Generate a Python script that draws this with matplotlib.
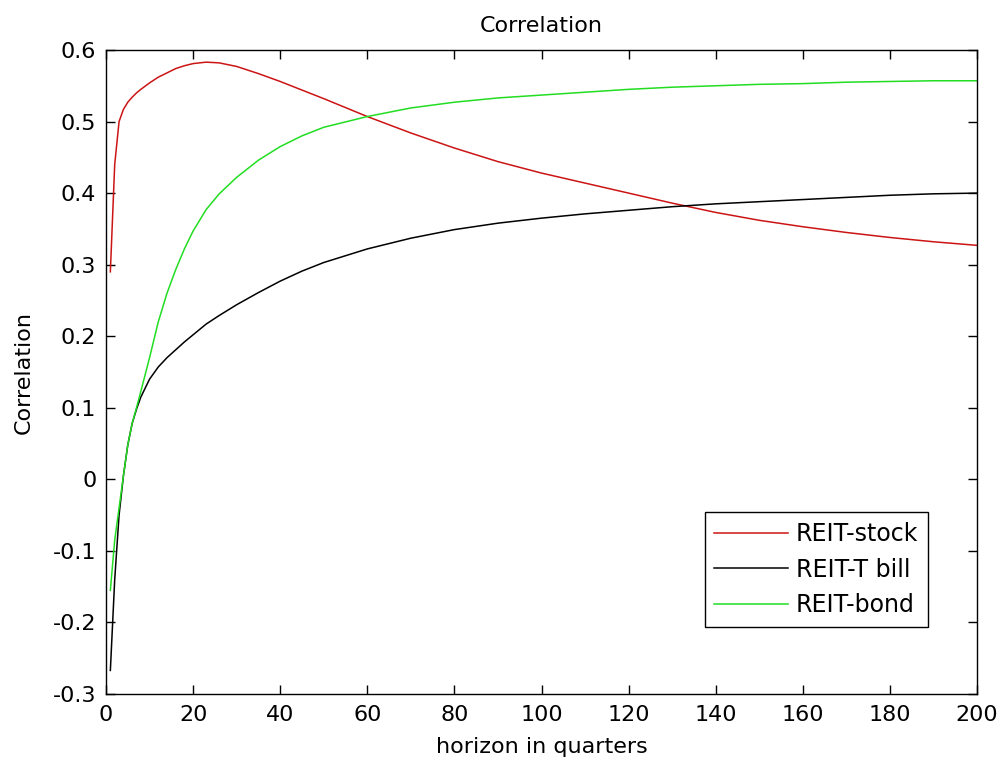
import matplotlib
matplotlib.use("Agg")
import matplotlib.pyplot as plt
from matplotlib.ticker import FuncFormatter, MultipleLocator

plt.rcParams['font.family'] = ['DejaVu Sans']
plt.rcParams['axes.unicode_minus'] = False

horizon = [1, 2, 3, 4, 5, 6, 7, 8, 10, 12, 14, 16, 18, 20, 23, 26, 30, 35, 40, 45,
           50, 60, 70, 80, 90, 100, 110, 120, 130, 140, 150, 160, 170, 180, 190, 200]

reit_stock = [0.29, 0.44, 0.50, 0.517, 0.527, 0.534, 0.54, 0.545, 0.554, 0.562, 0.568,
              0.574, 0.578, 0.581, 0.583, 0.582, 0.577, 0.567, 0.556, 0.544,
              0.532, 0.507, 0.484, 0.463, 0.444, 0.428, 0.414, 0.400, 0.386, 0.373,
              0.362, 0.353, 0.345, 0.338, 0.332, 0.327]

reit_tbill = [-0.267, -0.14, -0.05, 0.005, 0.048, 0.078, 0.098, 0.115, 0.140, 0.157, 0.170,
              0.181, 0.192, 0.202, 0.217, 0.229, 0.244, 0.261, 0.277, 0.291,
              0.303, 0.322, 0.337, 0.349, 0.358, 0.365, 0.371, 0.376, 0.381, 0.385,
              0.388, 0.391, 0.394, 0.397, 0.399, 0.400]

reit_bond = [-0.155, -0.085, -0.04, 0.005, 0.048, 0.078, 0.10, 0.123, 0.170, 0.220, 0.260,
             0.293, 0.322, 0.347, 0.377, 0.399, 0.422, 0.446, 0.465, 0.480,
             0.492, 0.507, 0.519, 0.527, 0.533, 0.537, 0.541, 0.545, 0.548, 0.550,
             0.552, 0.553, 0.555, 0.556, 0.557, 0.557]

series_labels = ['REIT-stock', 'REIT-T bill', 'REIT-bond']
series_colors = ['#cc1414', '#000000', '#22dd22']

FS = 16

fig = plt.figure(figsize=(10, 7.62), dpi=100)
ax = fig.add_axes([0.106, 0.0892, 0.871, 0.8452])

for vals, lab, col in zip([reit_stock, reit_tbill, reit_bond], series_labels, series_colors):
    ax.plot(horizon, vals, color=col, lw=1.1, label=lab)

ax.set_xlim(0, 200)
ax.set_ylim(-0.3, 0.6)
ax.xaxis.set_major_locator(MultipleLocator(20))
ax.yaxis.set_major_locator(MultipleLocator(0.1))
ax.yaxis.set_major_formatter(FuncFormatter(lambda v, p: '%g' % round(v, 2)))
ax.tick_params(direction='in', length=6.5, width=1, labelsize=FS,
               top=True, right=True, pad=7)
ax.tick_params(axis='x', pad=8)
for s in ax.spines.values():
    s.set_linewidth(1)

ax.set_title('Correlation', fontsize=FS, pad=13)
ax.set_xlabel('horizon in quarters', fontsize=FS)
ax.set_ylabel('Correlation', fontsize=FS)
ax.xaxis.set_label_coords(0.5, -0.0665)
ax.yaxis.set_label_coords(-0.0835, 0.5)

leg = ax.legend(loc='lower right', bbox_to_anchor=(0.9437, 0.104), fontsize=17,
                frameon=True, fancybox=False, framealpha=1, edgecolor='black',
                handlelength=3.1, labelspacing=0.49, borderpad=0.42, handletextpad=0.34,
                borderaxespad=0)
leg.get_frame().set_linewidth(1)

fig.savefig('out.png', dpi=100)
